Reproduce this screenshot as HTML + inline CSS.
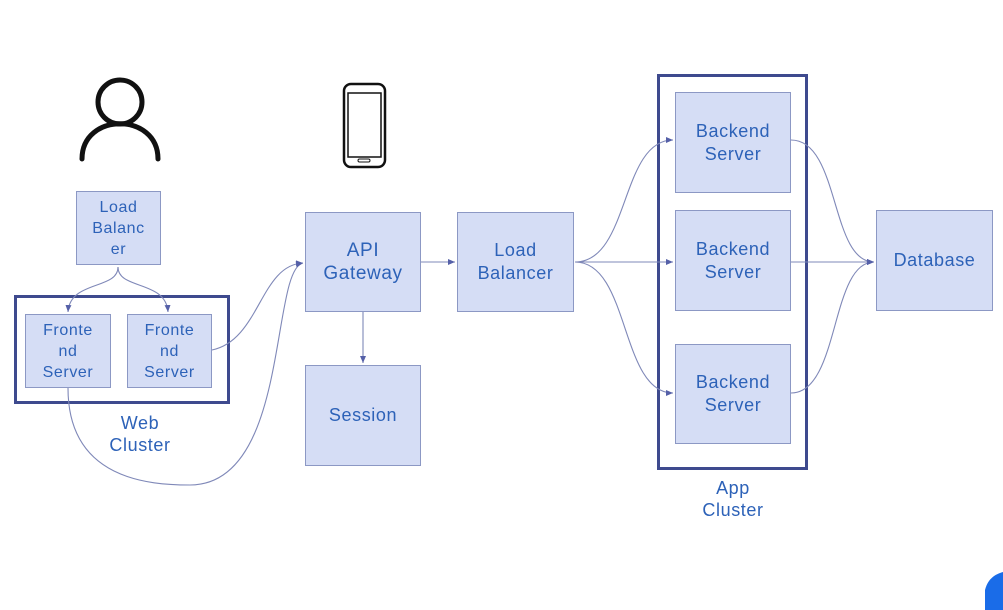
<!DOCTYPE html>
<html><head><style>
body{margin:0;width:1003px;height:610px;background:#fff;overflow:hidden;position:relative;font-family:"Liberation Sans",sans-serif;}
.b{position:absolute;background:#d5ddf5;border:1.5px solid #8c98c4;box-sizing:border-box;display:flex;align-items:center;justify-content:center;text-align:center;color:#2d62b8;font-size:18px;line-height:23px;letter-spacing:0.6px}
.c{position:absolute;border:3px solid #3e4a8e;box-sizing:border-box}
.t{position:absolute;color:#2d62b8;font-size:18px;line-height:22px;text-align:center;letter-spacing:0.6px}
svg{position:absolute;left:0;top:0}
</style></head><body>
<div class="c" style="left:14px;top:295px;width:216px;height:109px"></div>
<div class="c" style="left:657px;top:74px;width:151px;height:396px"></div>
<svg width="1003" height="610" viewBox="0 0 1003 610">
<defs><marker id="a" markerWidth="8" markerHeight="8" refX="7" refY="4" orient="auto" markerUnits="userSpaceOnUse"><path d="M0,1 L7,4 L0,7z" fill="#5560a8"/></marker></defs>
<g fill="none" stroke="#7f88b8" stroke-width="1.1">
<path d="M118,267 C118,290 70,280 68,312" marker-end="url(#a)"/>
<path d="M118,267 C118,290 166,280 168,312" marker-end="url(#a)"/>
<path d="M212,350 C260,340 260,265 303,263" marker-end="url(#a)"/>
<path d="M68,388 C68,480 150,485 190,485 C290,485 270,270 303,263" marker-end="url(#a)"/>
<path d="M363,311 L363,363" marker-end="url(#a)"/>
<path d="M421,262 L455,262" marker-end="url(#a)"/>
<path d="M575,262 C630,262 620,140 673,140" marker-end="url(#a)"/>
<path d="M575,262 L673,262" marker-end="url(#a)"/>
<path d="M575,262 C630,262 620,393 673,393" marker-end="url(#a)"/>
<path d="M791,140 C840,140 830,262 874,262" marker-end="url(#a)"/>
<path d="M791,262 L874,262" marker-end="url(#a)"/>
<path d="M791,393 C840,393 830,262 874,262" marker-end="url(#a)"/>
</g>
<g fill="none" stroke="#111" stroke-width="5" stroke-linecap="round">
<circle cx="120" cy="102" r="22"/>
<path d="M82,159 C82,112 158,112 158,159"/>
</g>
<rect x="344" y="84" width="41" height="83" rx="7" fill="none" stroke="#111" stroke-width="2.5"/>
<rect x="348" y="93" width="33" height="64" fill="none" stroke="#111" stroke-width="1.5"/>
<rect x="358" y="159" width="12" height="3" rx="1.5" fill="none" stroke="#111" stroke-width="1"/>
<path d="M985,610 L985,590 C988,578 996,574 1003,572 L1003,610z" fill="#1a6ce8"/>
</svg>
<div class="b" style="left:76px;top:191px;width:85px;height:74px;font-size:16px;line-height:21px">Load<br>Balanc<br>er</div>
<div class="b" style="left:25px;top:314px;width:86px;height:74px;font-size:16px;line-height:21px">Fronte<br>nd<br>Server</div>
<div class="b" style="left:127px;top:314px;width:85px;height:74px;font-size:16px;line-height:21px">Fronte<br>nd<br>Server</div>
<div class="b" style="left:305px;top:212px;width:116px;height:100px;font-size:19px">API<br>Gateway</div>
<div class="b" style="left:305px;top:365px;width:116px;height:101px">Session</div>
<div class="b" style="left:457px;top:212px;width:117px;height:100px">Load<br>Balancer</div>
<div class="b" style="left:675px;top:92px;width:116px;height:101px">Backend<br>Server</div>
<div class="b" style="left:675px;top:210px;width:116px;height:101px">Backend<br>Server</div>
<div class="b" style="left:675px;top:344px;width:116px;height:100px">Backend<br>Server</div>
<div class="b" style="left:876px;top:210px;width:117px;height:101px">Database</div>
<div class="t" style="left:90px;top:412px;width:100px">Web<br>Cluster</div>
<div class="t" style="left:683px;top:477px;width:100px">App<br>Cluster</div>
</body></html>
